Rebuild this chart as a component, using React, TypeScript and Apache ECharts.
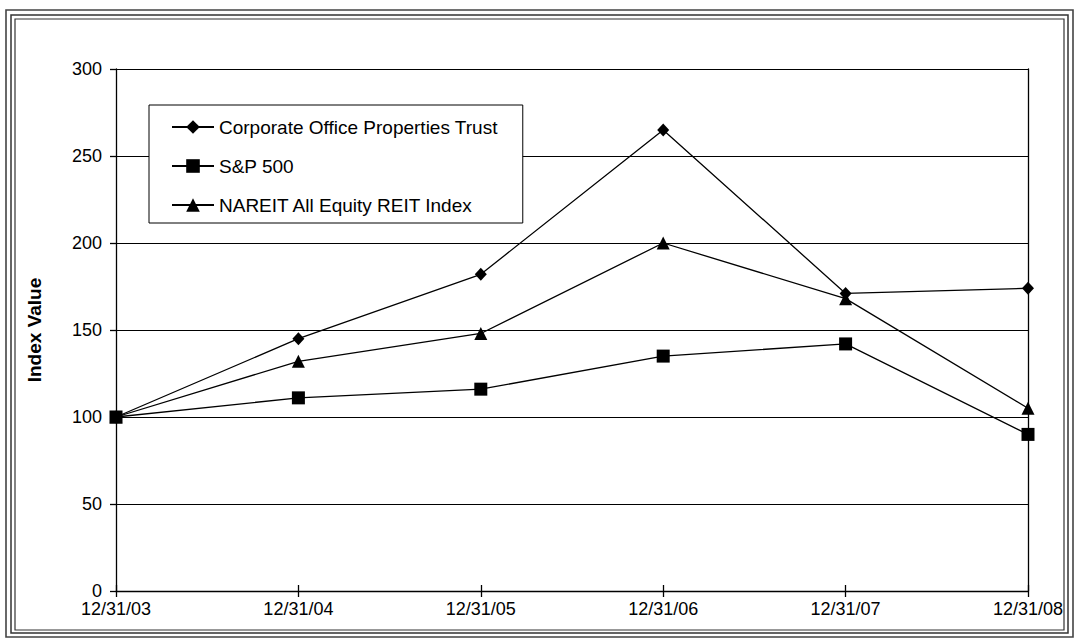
import React, { useEffect, useRef } from "react";
import * as echarts from "echarts";

const categories = ["12/31/03", "12/31/04", "12/31/05", "12/31/06", "12/31/07", "12/31/08"];
const coptValues = [100, 145, 182, 265, 171, 174];
const spValues = [100, 111, 116, 135, 142, 90];
const nareitValues = [100, 132, 148, 200, 168, 105];
const seriesNames = ["Corporate Office Properties Trust", "S&P 500", "NAREIT All Equity REIT Index"];
const yTicks = [0, 50, 100, 150, 200, 250, 300];

const FONT = "'Liberation Sans', Arial, sans-serif";

export default function App() {
  const ref = useRef<HTMLDivElement>(null);
  useEffect(() => {
    if (!ref.current) return;
    const chart = echarts.init(ref.current, undefined, { renderer: "svg" });
    const lineStyle = { color: "#000", width: 1.3 };
    const mk = (name: string, data: number[], symbol: string, size: number | number[]) => ({
      name,
      type: "line",
      data,
      symbol,
      symbolSize: size,
      showSymbol: true,
      lineStyle,
      itemStyle: { color: "#000", borderWidth: 0 },
      emphasis: { disabled: true },
    });
    chart.setOption({
      animation: false,
      backgroundColor: "#fff",
      graphic: [
        { type: "rect", shape: { x: 6, y: 10, width: 1067, height: 627 }, style: { fill: "none", stroke: "#444", lineWidth: 1.6 } },
        { type: "rect", shape: { x: 11, y: 15, width: 1057, height: 618 }, style: { fill: "none", stroke: "#333", lineWidth: 1.5 } },
        { type: "rect", shape: { x: 15, y: 19, width: 1049, height: 611 }, style: { fill: "none", stroke: "#333", lineWidth: 1.2 } },
      ],
      grid: { left: 116, right: 48, top: 69, bottom: 49, containLabel: false },
      legend: {
        data: seriesNames,
        orient: "vertical",
        left: 149,
        top: 105,
        padding: [12, 25, 8, 22],
        itemGap: 19,
        itemWidth: 42,
        itemHeight: 17,
        backgroundColor: "#fff",
        borderColor: "#000",
        borderWidth: 1,
        borderRadius: 0,
        textStyle: { fontFamily: FONT, fontSize: 19, color: "#000", lineHeight: 20 },
      },
      xAxis: [
        {
          type: "category",
          data: categories,
          boundaryGap: false,
          axisLine: { lineStyle: { color: "#000", width: 1.3 } },
          axisTick: { show: true, inside: false, length: 6, lineStyle: { color: "#000", width: 1.3 } },
          axisLabel: { fontFamily: FONT, fontSize: 18, color: "#000", margin: 9 },
          splitLine: { show: false },
        },
        {
          type: "category",
          data: categories,
          position: "bottom",
          boundaryGap: false,
          axisLine: { show: false },
          axisTick: { show: true, inside: true, length: 6, lineStyle: { color: "#000", width: 1.3 } },
          axisLabel: { show: false },
          splitLine: { show: false },
        },
      ],
      yAxis: [
        {
          type: "value",
          min: yTicks[0],
          max: yTicks[yTicks.length - 1],
          interval: 50,
          name: "Index Value",
          nameLocation: "middle",
          nameGap: 72,
          nameRotate: 90,
          nameTextStyle: { fontFamily: FONT, fontSize: 19, fontWeight: "bold", color: "#000" },
          axisLine: { show: true, lineStyle: { color: "#000", width: 1.3 } },
          axisTick: { show: true, inside: false, length: 6, lineStyle: { color: "#000", width: 1.3 } },
          axisLabel: { fontFamily: FONT, fontSize: 18, color: "#000", margin: 14 },
          splitLine: { show: true, lineStyle: { color: "#000", width: 1.2 } },
        },
        {
          type: "value",
          position: "right",
          min: yTicks[0],
          max: yTicks[yTicks.length - 1],
          interval: 50,
          axisLine: { show: true, lineStyle: { color: "#000", width: 1.3 } },
          axisTick: { show: false },
          axisLabel: { show: false },
          splitLine: { show: false },
        },
      ],
      series: [
        mk(seriesNames[0], coptValues, "diamond", [12, 13]),
        mk(seriesNames[1], spValues, "rect", 13),
        mk(seriesNames[2], nareitValues, "triangle", 13),
      ],
    });
    return () => chart.dispose();
  }, []);
  return <div ref={ref} style={{ position: "fixed", left: 0, top: 0, width: 1076, height: 640 }} />;
}
